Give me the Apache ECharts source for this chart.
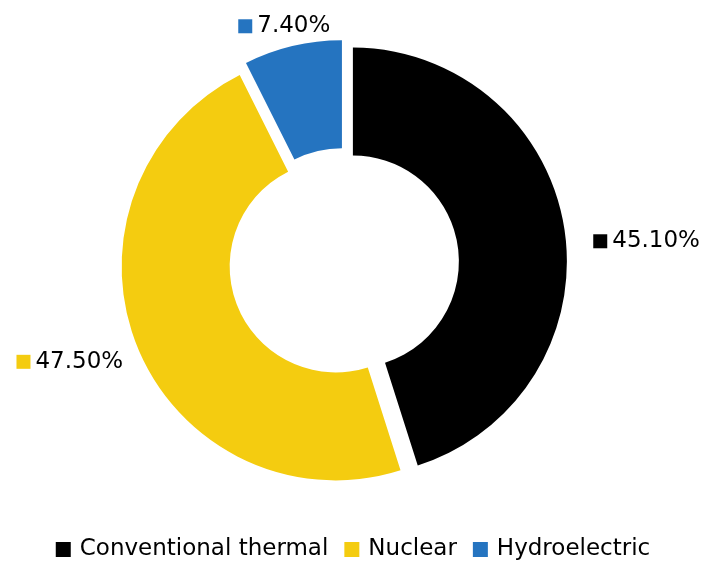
<!DOCTYPE html>
<html>
<head>
<meta charset="utf-8">
<script src="https://cdn.jsdelivr.net/npm/echarts@6/dist/echarts.min.js"></script>
<style>
  html, body { margin: 0; padding: 0; background: #fff; }
  #chart { width: 706px; height: 563px; }
</style>
</head>
<body>
<div id="chart"></div>
<script>
const categories = ['Conventional thermal', 'Nuclear', 'Hydroelectric']
const values = [45.1, 47.5, 7.4]
const COLORS = ['#000000', '#f4cc10', '#2574c0']
const FONT = 'DejaVu Sans'
const TEXT = { fontFamily: FONT, fontSize: 23, color: '#000' }

// nudges so the outside labels sit where the original puts them
const LABEL_SHIFT = [[14, 14], [0, 11], [45, -10]]

const chart = echarts.init(document.getElementById('chart'))

const rich = {}
COLORS.forEach((c, i) => {
  rich['m' + i] = { backgroundColor: c, width: 14, height: 14 }
})
rich.t = { ...TEXT, padding: [0, 0, 0, 5] }

chart.setOption({
  animation: false,
  color: COLORS,
  legend: {
    top: 533,
    left: 'center',
    icon: 'rect',
    itemWidth: 15,
    itemHeight: 15,
    itemGap: 16,
    selectedMode: false,
    textStyle: { ...TEXT, padding: [0, 0, 0, 4] },
    data: categories
  },
  series: [{
    type: 'pie',
    center: [344, 263],
    radius: [106, 214],
    startAngle: 90,
    selectedMode: 'multiple',
    selectedOffset: 9,
    emphasis: { disabled: true },
    label: {
      show: true,
      position: 'outside',
      formatter: p => '{m' + p.dataIndex + '|}{t|' + p.value.toFixed(2) + '%}',
      rich
    },
    labelLine: { show: false, length: 10, length2: 0 },
    labelLayout: p => ({ dx: LABEL_SHIFT[p.dataIndex][0], dy: LABEL_SHIFT[p.dataIndex][1] }),
    data: categories.map((name, i) => ({ name, value: values[i], selected: true }))
  }]
})
</script>
</body>
</html>
